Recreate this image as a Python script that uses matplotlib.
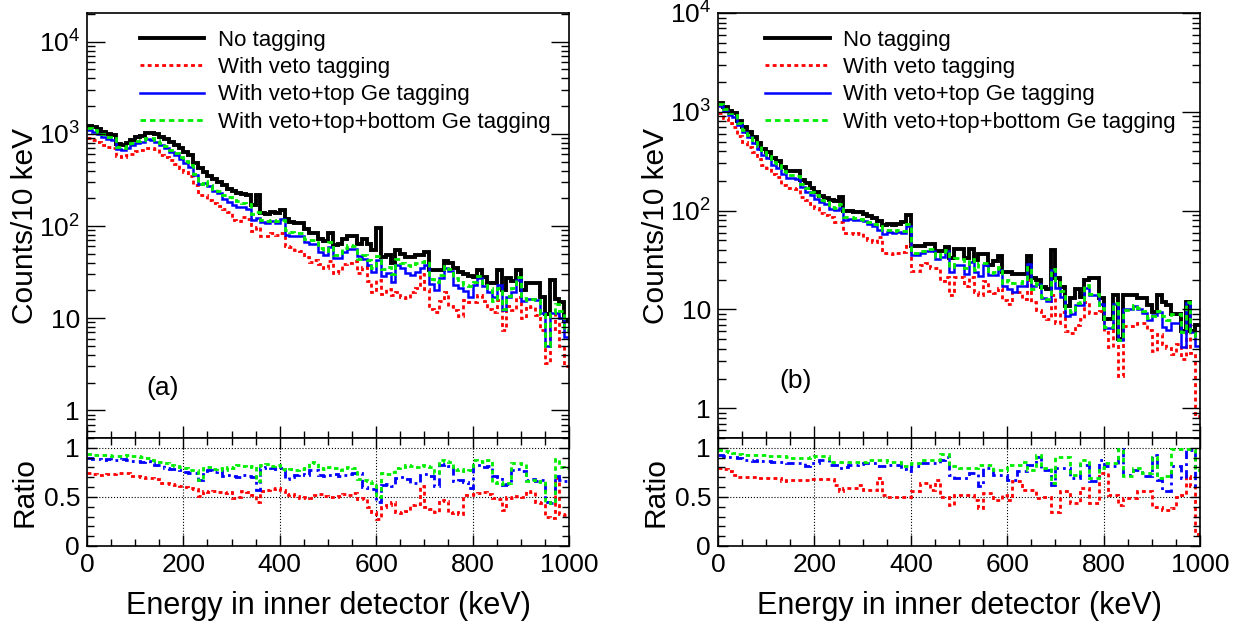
import numpy as np
import matplotlib.pyplot as plt
from matplotlib.ticker import (FixedLocator, FixedFormatter, LogLocator,
                               NullFormatter, MultipleLocator)

plt.rcParams['font.family'] = ['Liberation Sans', 'DejaVu Sans']
plt.rcParams['mathtext.default'] = 'regular'

# 10 keV bins, 0-1000 keV
edges = np.arange(0, 1001, 10)

# ---- panel (a) ----
no_tag_a = [1220, 1180, 1120, 1060, 990, 970, 780, 760, 800, 860,
            920, 950, 1010, 1030, 1000, 930, 880, 820, 760, 700,
            640, 590, 480, 430, 390, 350, 320, 300, 280, 255,
            240, 228, 222, 216, 168, 216, 140, 136, 143, 137,
            149, 118, 111, 109, 108, 92, 83, 83, 73, 69,
            83, 62, 63, 73, 77, 77, 64, 73, 64, 55,
            95, 46, 49, 40, 55, 50, 46, 46, 49, 49,
            52, 33, 33, 33, 42, 40, 35, 32, 30, 29,
            28, 33, 28, 24, 24, 33, 20, 27, 25, 33,
            20, 24, 24, 24, 17, 11, 26, 16, 15, 9.5]
ratio_veto_a = [0.74, 0.73, 0.72, 0.72, 0.73, 0.73, 0.74, 0.74, 0.74, 0.71,
                0.71, 0.70, 0.69, 0.69, 0.68, 0.64, 0.64, 0.63, 0.62, 0.61,
                0.60, 0.59, 0.58, 0.51, 0.56, 0.55, 0.56, 0.55, 0.54, 0.55,
                0.49, 0.50, 0.56, 0.55, 0.52, 0.45, 0.56, 0.57, 0.58, 0.59,
                0.57, 0.52, 0.53, 0.51, 0.49, 0.50, 0.49, 0.52, 0.53, 0.51,
                0.50, 0.50, 0.51, 0.53, 0.52, 0.54, 0.48, 0.49, 0.40, 0.35,
                0.27, 0.40, 0.42, 0.45, 0.35, 0.34, 0.36, 0.42, 0.43, 0.61,
                0.40, 0.38, 0.35, 0.47, 0.46, 0.34, 0.35, 0.33, 0.52, 0.52,
                0.53, 0.54, 0.55, 0.53, 0.49, 0.48, 0.37, 0.50, 0.49, 0.51,
                0.50, 0.56, 0.55, 0.45, 0.44, 0.30, 0.29, 0.69, 0.33, 0.32]
ratio_top_a = [0.90, 0.89, 0.89, 0.88, 0.89, 0.88, 0.88, 0.89, 0.88, 0.87,
               0.87, 0.86, 0.87, 0.84, 0.82, 0.82, 0.79, 0.78, 0.78, 0.77,
               0.75, 0.74, 0.74, 0.67, 0.76, 0.77, 0.75, 0.76, 0.71, 0.72,
               0.71, 0.70, 0.72, 0.71, 0.70, 0.57, 0.79, 0.80, 0.79, 0.78,
               0.79, 0.68, 0.70, 0.72, 0.73, 0.72, 0.77, 0.77, 0.72, 0.71,
               0.72, 0.73, 0.71, 0.72, 0.73, 0.74, 0.74, 0.60, 0.59, 0.58,
               0.45, 0.62, 0.63, 0.61, 0.69, 0.70, 0.68, 0.64, 0.64, 0.72,
               0.73, 0.71, 0.61, 0.82, 0.83, 0.81, 0.66, 0.67, 0.65, 0.59,
               0.81, 0.82, 0.80, 0.81, 0.71, 0.70, 0.62, 0.63, 0.77, 0.78,
               0.76, 0.67, 0.68, 0.66, 0.67, 0.45, 0.44, 0.71, 0.67, 0.66]
ratio_all_a = [0.94, 0.93, 0.93, 0.93, 0.93, 0.92, 0.92, 0.92, 0.93, 0.92,
               0.92, 0.91, 0.90, 0.88, 0.86, 0.86, 0.84, 0.82, 0.81, 0.80,
               0.79, 0.77, 0.77, 0.67, 0.79, 0.80, 0.78, 0.79, 0.77, 0.80,
               0.79, 0.82, 0.81, 0.80, 0.81, 0.66, 0.82, 0.83, 0.81, 0.82,
               0.78, 0.77, 0.78, 0.77, 0.78, 0.79, 0.86, 0.85, 0.79, 0.78,
               0.80, 0.79, 0.77, 0.79, 0.80, 0.79, 0.68, 0.67, 0.66, 0.64,
               0.50, 0.74, 0.73, 0.75, 0.79, 0.80, 0.82, 0.81, 0.80, 0.82,
               0.81, 0.80, 0.74, 0.88, 0.87, 0.86, 0.77, 0.78, 0.76, 0.77,
               0.88, 0.87, 0.86, 0.88, 0.64, 0.65, 0.63, 0.64, 0.84, 0.85,
               0.83, 0.66, 0.67, 0.65, 0.66, 0.45, 0.44, 0.89, 0.80, 0.79]

# ---- panel (b) ----
no_tag_b = [1225, 1107, 1023, 970, 813, 710, 630, 560, 482, 423,
            392, 340, 315, 275, 254, 254, 250, 206, 190, 170,
            155, 140, 133, 128, 124, 136, 100, 100, 98, 96,
            93, 88, 84, 79, 72, 74, 72, 74, 76, 91,
            44, 44, 44, 46, 46, 39, 39, 43, 33, 41,
            41, 33, 41, 32, 36, 36, 28.5, 31, 35, 24,
            24, 22.6, 22.6, 22.6, 35, 21, 20, 17, 16, 40,
            21, 17, 10.8, 13, 16, 13.5, 20, 21, 21, 13,
            8, 8, 14, 5, 14, 14, 14, 13, 13, 11,
            9.5, 14, 12, 11, 9, 9, 6, 12, 6, 7]
ratio_veto_b = [0.79, 0.78, 0.76, 0.72, 0.70, 0.70, 0.70, 0.70, 0.69, 0.69,
                0.69, 0.69, 0.69, 0.66, 0.67, 0.67, 0.67, 0.67, 0.67, 0.68,
                0.68, 0.68, 0.68, 0.68, 0.62, 0.56, 0.59, 0.59, 0.59, 0.62,
                0.57, 0.57, 0.57, 0.69, 0.52, 0.50, 0.50, 0.50, 0.50, 0.50,
                0.56, 0.56, 0.64, 0.64, 0.57, 0.67, 0.50, 0.50, 0.42, 0.52,
                0.52, 0.52, 0.52, 0.47, 0.39, 0.54, 0.54, 0.47, 0.47, 0.52,
                0.47, 0.66, 0.66, 0.57, 0.57, 0.57, 0.49, 0.50, 0.50, 0.35,
                0.35, 0.56, 0.56, 0.44, 0.44, 0.59, 0.59, 0.44, 0.44, 0.74,
                0.74, 0.52, 0.52, 0.42, 0.49, 0.49, 0.49, 0.56, 0.56, 0.56,
                0.40, 0.40, 0.37, 0.37, 0.39, 0.50, 0.52, 0.71, 0.61, 0.12]
ratio_top_b = [0.93, 0.92, 0.91, 0.91, 0.90, 0.88, 0.88, 0.87, 0.88, 0.87,
               0.87, 0.86, 0.86, 0.86, 0.85, 0.84, 0.84, 0.84, 0.81, 0.85,
               0.85, 0.88, 0.88, 0.82, 0.82, 0.79, 0.80, 0.82, 0.82, 0.83,
               0.84, 0.84, 0.84, 0.81, 0.81, 0.82, 0.82, 0.82, 0.78, 0.76,
               0.81, 0.81, 0.84, 0.84, 0.84, 0.84, 0.88, 0.91, 0.72, 0.69,
               0.69, 0.69, 0.74, 0.74, 0.61, 0.79, 0.79, 0.72, 0.72, 0.72,
               0.67, 0.67, 0.76, 0.76, 0.82, 0.82, 0.91, 0.77, 0.77, 0.62,
               0.79, 0.79, 0.79, 0.69, 0.69, 0.82, 0.82, 0.66, 0.66, 0.88,
               0.81, 0.81, 0.81, 0.99, 0.72, 0.72, 0.77, 0.77, 0.71, 0.71,
               0.93, 0.67, 0.56, 0.56, 0.81, 0.81, 0.69, 0.98, 0.98, 0.61]
ratio_all_b = [0.98, 0.97, 0.96, 0.95, 0.94, 0.93, 0.93, 0.93, 0.93, 0.93,
               0.92, 0.92, 0.92, 0.92, 0.91, 0.90, 0.90, 0.90, 0.90, 0.91,
               0.92, 0.92, 0.92, 0.86, 0.86, 0.86, 0.86, 0.86, 0.86, 0.86,
               0.86, 0.88, 0.88, 0.88, 0.88, 0.86, 0.86, 0.86, 0.81, 0.81,
               0.85, 0.85, 0.88, 0.88, 0.88, 0.88, 0.94, 0.94, 0.81, 0.81,
               0.79, 0.79, 0.79, 0.79, 0.82, 0.82, 0.82, 0.77, 0.77, 0.77,
               0.82, 0.82, 0.82, 0.86, 0.77, 0.77, 0.93, 0.79, 0.79, 0.64,
               0.91, 0.91, 0.91, 0.72, 0.72, 0.88, 0.88, 0.69, 0.69, 0.79,
               0.84, 0.84, 0.84, 0.99, 0.71, 0.71, 0.79, 0.79, 0.74, 0.74,
               0.91, 0.69, 0.71, 0.71, 0.99, 0.99, 0.99, 0.99, 0.99, 0.77]

labels = ['No tagging', 'With veto tagging', 'With veto+top Ge tagging',
          'With veto+top+bottom Ge tagging']
colors = ['black', '#ff0000', '#0000ff', '#00ee00']
main_styles = ['-', (0, (1.4, 1.2)), '-', (0, (2.0, 1.4))]
main_widths = [2.8, 2.0, 1.8, 2.0]
ratio_styles = [(0, (1.4, 1.2)), (0, (3.0, 1.5, 1.0, 1.5)), (0, (1.6, 1.3))]


def draw_panel(ax, axr, no_tag, ratios, ylim, tag, tag_xy, leg_x):
    no_tag = np.array(no_tag, dtype=float)
    hists = [no_tag] + [no_tag * np.array(r) for r in ratios]
    handles = []
    for h, c, ls, lw in zip(hists, colors, main_styles, main_widths):
        art = ax.stairs(h, edges, baseline=None, color=c, ls=ls, lw=lw)
        handles.append(art)
    ax.set_yscale('log')
    ax.set_xlim(0, 1000)
    ax.set_ylim(*ylim)
    ax.yaxis.set_major_locator(FixedLocator([1, 10, 100, 1000, 10000]))
    ax.yaxis.set_major_formatter(FixedFormatter(['1', '10', '$10^2$', '$10^3$', '$10^4$']))
    ax.yaxis.set_minor_locator(LogLocator(base=10, subs=np.arange(2, 10), numticks=20))
    ax.yaxis.set_minor_formatter(NullFormatter())
    ax.xaxis.set_major_locator(MultipleLocator(200))
    ax.xaxis.set_minor_locator(MultipleLocator(50))
    ax.tick_params(which='both', direction='in', left=True, right=True,
                   top=False, bottom=True, labelbottom=False, labelsize=19, pad=5)
    ax.tick_params(axis='y', which='major', length=13, width=1)
    ax.tick_params(axis='y', which='minor', length=6, width=1)
    ax.tick_params(axis='x', which='major', length=9, width=1)
    ax.tick_params(axis='x', which='minor', length=5, width=1)
    ax.set_ylabel('Counts/10 keV', fontsize=21.5)
    ax.yaxis.set_label_coords(-0.10, 0.5)
    for s in ax.spines.values():
        s.set_linewidth(1.2)
    ax.legend(handles, labels, loc='upper left', bbox_to_anchor=(leg_x, 0.960),
              frameon=False, fontsize=16, handlelength=2.9, handletextpad=0.6,
              labelspacing=0.28, borderpad=0, borderaxespad=0)
    ax.text(tag_xy[0], tag_xy[1], tag, transform=ax.transAxes, fontsize=19,
            ha='center', va='center')

    for r, c, ls in zip(ratios, colors[1:], ratio_styles):
        axr.stairs(r, edges, baseline=None, color=c, ls=ls, lw=2.0)
    axr.set_xlim(0, 1000)
    axr.set_ylim(0, 1.1)
    for xv in [200, 400, 600, 800]:
        axr.axvline(xv, color='black', ls=':', lw=0.8, zorder=0)
    for yv in [0.5, 1.0]:
        axr.axhline(yv, color='black', ls=':', lw=0.8, zorder=0)
    axr.xaxis.set_major_locator(MultipleLocator(200))
    axr.xaxis.set_minor_locator(MultipleLocator(50))
    axr.yaxis.set_major_locator(FixedLocator([0, 0.5, 1]))
    axr.yaxis.set_major_formatter(FixedFormatter(['0', '0.5', '1']))
    axr.yaxis.set_minor_locator(MultipleLocator(0.1))
    axr.tick_params(which='both', direction='in', left=True, right=True,
                    top=True, bottom=True, labelsize=19, pad=5)
    axr.tick_params(axis='x', which='major', length=8, width=1)
    axr.tick_params(axis='x', which='minor', length=5, width=1)
    axr.tick_params(axis='y', which='major', length=7, width=1)
    axr.tick_params(axis='y', which='minor', length=5, width=1)
    axr.set_ylabel('Ratio', fontsize=21.5)
    axr.yaxis.set_label_coords(-0.10, 0.5)
    axr.set_xlabel('Energy in inner detector (keV)', fontsize=22)
    axr.xaxis.set_label_coords(0.5, -0.42)
    for s in axr.spines.values():
        s.set_linewidth(1.2)


fig = plt.figure(figsize=(12.44, 6.28), dpi=100)
ax_a = fig.add_axes([0.0699, 0.3025, 0.3875, 0.6768])
axr_a = fig.add_axes([0.0699, 0.1306, 0.3875, 0.1720])
ax_b = fig.add_axes([0.5772, 0.3025, 0.3875, 0.6768])
axr_b = fig.add_axes([0.5772, 0.1306, 0.3875, 0.1720])

draw_panel(ax_a, axr_a, no_tag_a, [ratio_veto_a, ratio_top_a, ratio_all_a],
           (0.5, 2.05e4), '(a)', (0.158, 0.118), 0.11)
draw_panel(ax_b, axr_b, no_tag_b, [ratio_veto_b, ratio_top_b, ratio_all_b],
           (0.5, 1.0e4), '(b)', (0.16, 0.134), 0.098)

fig.savefig('out.png', dpi=100)
